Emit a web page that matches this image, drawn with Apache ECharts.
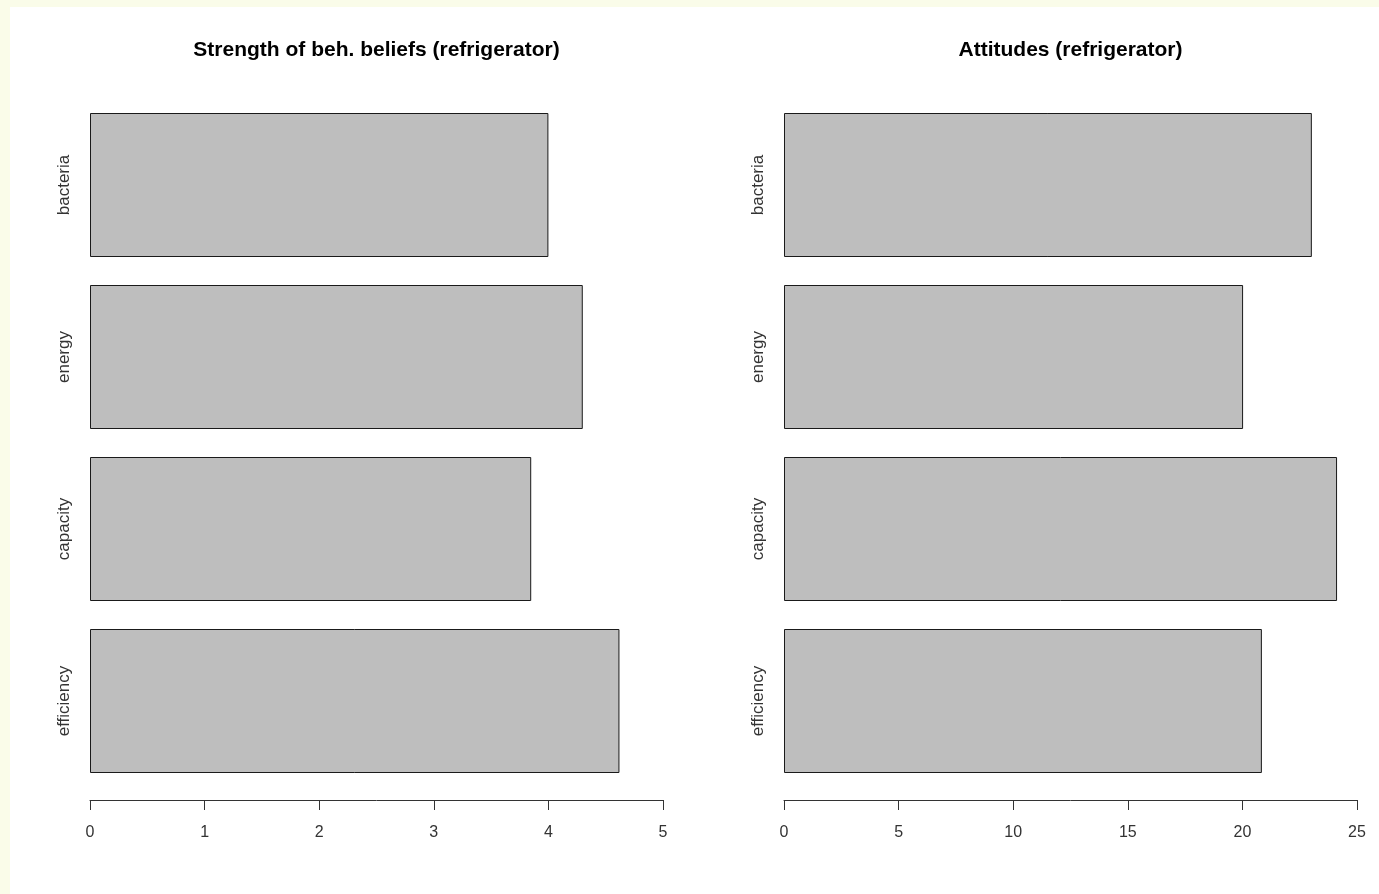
<!DOCTYPE html>
<html>
<head>
<meta charset="utf-8">
<script src="https://cdn.jsdelivr.net/npm/echarts@6/dist/echarts.min.js"></script>
<style>
  html, body { margin: 0; padding: 0; background: #fafce9; }
  #chart { position: absolute; left: 10px; top: 7px; width: 1369px; height: 887px; background: #ffffff; }
</style>
</head>
<body>
<div id="chart"></div>
<script>
// Categories, listed bottom to top as drawn on the value axis
const categories = ['efficiency', 'capacity', 'energy', 'bacteria'];

// Mean strength of behavioural beliefs
const beliefStrength = [4.62, 3.85, 4.30, 4.00];

// Attitude scores
const attitudes = [20.85, 24.13, 20.03, 23.03];

const leftTitle = 'Strength of beh. beliefs (refrigerator)';
const rightTitle = 'Attitudes (refrigerator)';

const chart = echarts.init(document.getElementById('chart'));

const FONT = 'Liberation Sans, Arial, sans-serif';

function xAxisFor(gridIndex, max, interval) {
  return {
    type: 'value',
    gridIndex: gridIndex,
    min: 0,
    max: max,
    interval: interval,
    offset: 13,
    axisLine: { show: true, lineStyle: { color: '#333', width: 1 } },
    axisTick: { show: true, length: 10, lineStyle: { color: '#333', width: 1 } },
    axisLabel: { color: '#333', fontSize: 16, fontFamily: FONT, margin: 25 },
    splitLine: { show: false }
  };
}

function yAxisFor(gridIndex) {
  return {
    type: 'category',
    gridIndex: gridIndex,
    data: categories,
    axisLine: { show: false },
    axisTick: { show: false },
    axisLabel: { rotate: 90, color: '#333', fontSize: 17, fontFamily: FONT, margin: 17 }
  };
}

const barStyle = { color: '#bebebe', borderColor: '#1a1a1a', borderWidth: 1 };

const titleStyle = { fontSize: 21, fontWeight: 'bold', color: '#000', fontFamily: FONT };

chart.setOption({
  animation: false,
  textStyle: { fontFamily: FONT },
  title: [
    { text: leftTitle, left: 361.5, top: 28, textAlign: 'center', textStyle: titleStyle },
    { text: rightTitle, left: 1055.5, top: 28, textAlign: 'center', textStyle: titleStyle }
  ],
  grid: [
    { left: 80, top: 92, width: 573, height: 688 },
    { left: 774, top: 92, width: 573, height: 688 }
  ],
  xAxis: [xAxisFor(0, 5, 1), xAxisFor(1, 25, 5)],
  yAxis: [yAxisFor(0), yAxisFor(1)],
  series: [
    { type: 'bar', xAxisIndex: 0, yAxisIndex: 0, data: beliefStrength,
      barWidth: 144, itemStyle: barStyle, silent: true },
    { type: 'bar', xAxisIndex: 1, yAxisIndex: 1, data: attitudes,
      barWidth: 144, itemStyle: barStyle, silent: true }
  ]
});
</script>
</body>
</html>
